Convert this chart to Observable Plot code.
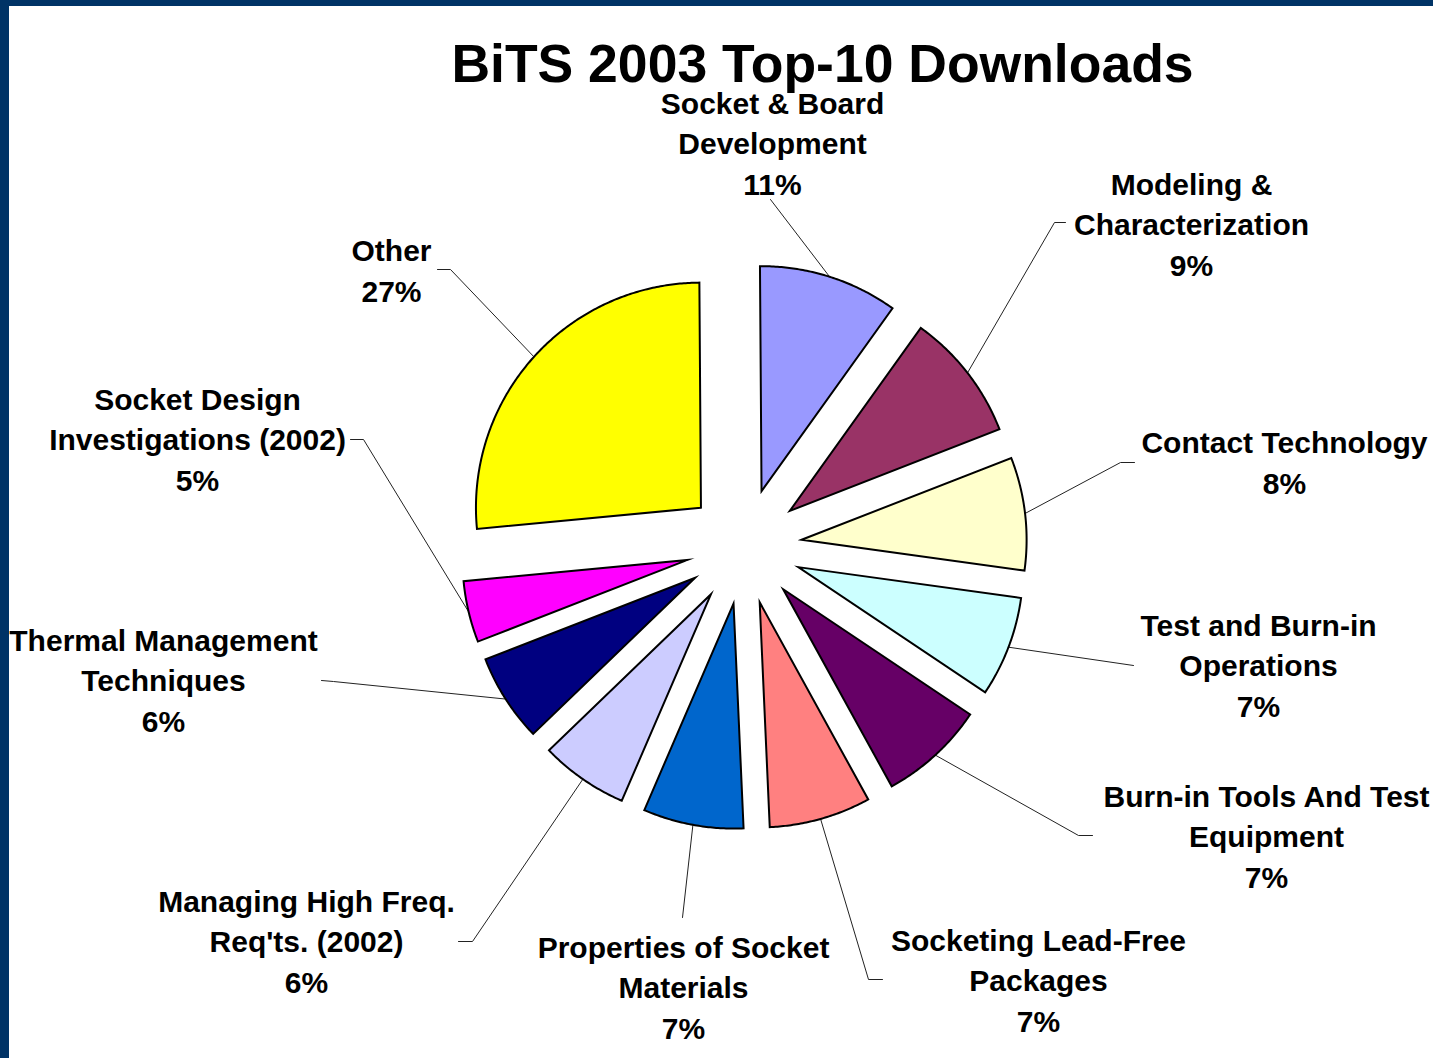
<!DOCTYPE html>
<html>
<head>
<meta charset="utf-8">
<script src="https://cdn.jsdelivr.net/npm/d3@7"></script>
<script src="https://cdn.jsdelivr.net/npm/@observablehq/plot@0.6"></script>
<style>
  html, body { margin: 0; padding: 0; background: #ffffff; }
  #wrap { position: relative; width: 1433px; height: 1058px; overflow: hidden; background: #ffffff; }
  #chart { position: absolute; left: 0; top: 0; }
  .bar-top { position: absolute; left: 0; top: 0; width: 1433px; height: 6px; background: #003366; }
  .bar-left { position: absolute; left: 0; top: 0; width: 9px; height: 1058px; background: #003366; }
</style>
</head>
<body>
<div id="wrap">
  <div id="chart"></div>
  <div class="bar-top"></div>
  <div class="bar-left"></div>
</div>
<script>
// ---------------- data ----------------
const title = "BiTS 2003 Top-10 Downloads";
const categories = [
  "Socket & Board\nDevelopment",
  "Modeling &\nCharacterization",
  "Contact Technology",
  "Test and Burn-in\nOperations",
  "Burn-in Tools And Test\nEquipment",
  "Socketing Lead-Free\nPackages",
  "Properties of Socket\nMaterials",
  "Managing High Freq.\nReq'ts. (2002)",
  "Thermal Management\nTechniques",
  "Socket Design\nInvestigations (2002)",
  "Other"
];
// slice shares as drawn (percent of the whole)
const shares = [10.0, 9.2, 8.1, 7.2, 7.6, 7.3, 7.2, 6.3, 6.3, 4.4, 26.4];
// percentage texts printed in the labels
const pctLabels = ["11%", "9%", "8%", "7%", "7%", "7%", "7%", "6%", "6%", "5%", "27%"];
const colors = ["#9999FF", "#993366", "#FFFFCC", "#CCFFFF", "#660066", "#FF8080",
                "#0066CC", "#CCCCFF", "#000080", "#FF00FF", "#FFFF00"];

// ---------------- layout ----------------
const W = 1433, H = 1058;
const CX = 743.5, CY = 546, R = 225;      // pie centre and radius (px)
const EXPLODE = 58 / R;                   // explosion distance in radius units
const START = -0.4 * Math.PI / 180;       // first slice start angle
const FONT = "'Liberation Sans', Arial, Helvetica, sans-serif";
// label block centres (px) and leader-line starts (px) — annotation placement
const labelAt = [
  [772, 141], [1191, 222], [1284, 460], [1258, 663], [1266, 834], [1038, 978],
  [683, 985], [306, 939], [163, 678], [197, 437], [391, 268]
];
const leaderFrom = [
  [[770, 199]],
  [[1065, 222], [1054, 222]],
  [[1134, 462], [1120, 462]],
  [[1133, 665]],
  [[1092, 835], [1078, 835]],
  [[882, 979], [868, 979]],
  [[682, 917]],
  [[458, 941], [472, 941]],
  [[321, 680], [333, 681]],
  [[350, 439], [363, 439]],
  [[437, 269], [450, 269]]
];
const ux = px => (px - CX) / R;
const uy = py => (py - CY) / R;

// ---------------- geometry from data ----------------
const arcs = d3.pie().sort(null).value(d => d)
  .startAngle(START).endAngle(START + 2 * Math.PI)(shares);

const slicePts = [];
const leaderPts = [];
arcs.forEach((a, i) => {
  const mid = (a.startAngle + a.endAngle) / 2;
  const ox = EXPLODE * Math.sin(mid), oy = -EXPLODE * Math.cos(mid);
  slicePts.push({i, x: ox, y: oy});
  const n = Math.max(2, Math.ceil((a.endAngle - a.startAngle) / (Math.PI / 360)));
  for (let k = 0; k <= n; k++) {
    const t = a.startAngle + (a.endAngle - a.startAngle) * k / n;
    slicePts.push({i, x: ox + Math.sin(t), y: oy - Math.cos(t)});
  }
  leaderFrom[i].forEach(p => leaderPts.push({i, x: ux(p[0]), y: uy(p[1])}));
  leaderPts.push({i, x: (1 + EXPLODE) * Math.sin(mid), y: -(1 + EXPLODE) * Math.cos(mid)});
});

const labels = categories.map((c, i) => ({
  text: c + "\n" + pctLabels[i], x: ux(labelAt[i][0]), y: uy(labelAt[i][1])
}));

const chart = Plot.plot({
  width: W,
  height: H,
  margin: 0,
  x: {domain: [ux(0), ux(W)], range: [0, W], axis: null},
  y: {domain: [uy(0), uy(H)], range: [0, H], axis: null},
  color: {type: "identity"},
  style: {fontFamily: FONT, background: "transparent", overflow: "visible"},
  marks: [
    Plot.line(leaderPts, {x: "x", y: "y", z: "i", stroke: "#222222", strokeWidth: 1}),
    Plot.line(slicePts, {
      x: "x", y: "y", z: "i",
      fill: d => colors[d.i], stroke: "#000000", strokeWidth: 2,
      curve: "linear-closed", strokeLinejoin: "miter", strokeMiterlimit: 10
    }),
    Plot.text(labels, {
      x: "x", y: "y", text: "text",
      fontSize: 30, fontWeight: "bold", lineHeight: 1.35,
      lineAnchor: "middle", textAnchor: "middle", fill: "#000000", fontFamily: FONT
    }),
    Plot.text([title], {
      x: ux(822), y: uy(81), text: d => d,
      fontSize: 53.5, fontWeight: "bold", lineAnchor: "bottom", textAnchor: "middle",
      fill: "#000000", fontFamily: FONT
    })
  ]
});
document.getElementById("chart").appendChild(chart);
</script>
</body>
</html>
